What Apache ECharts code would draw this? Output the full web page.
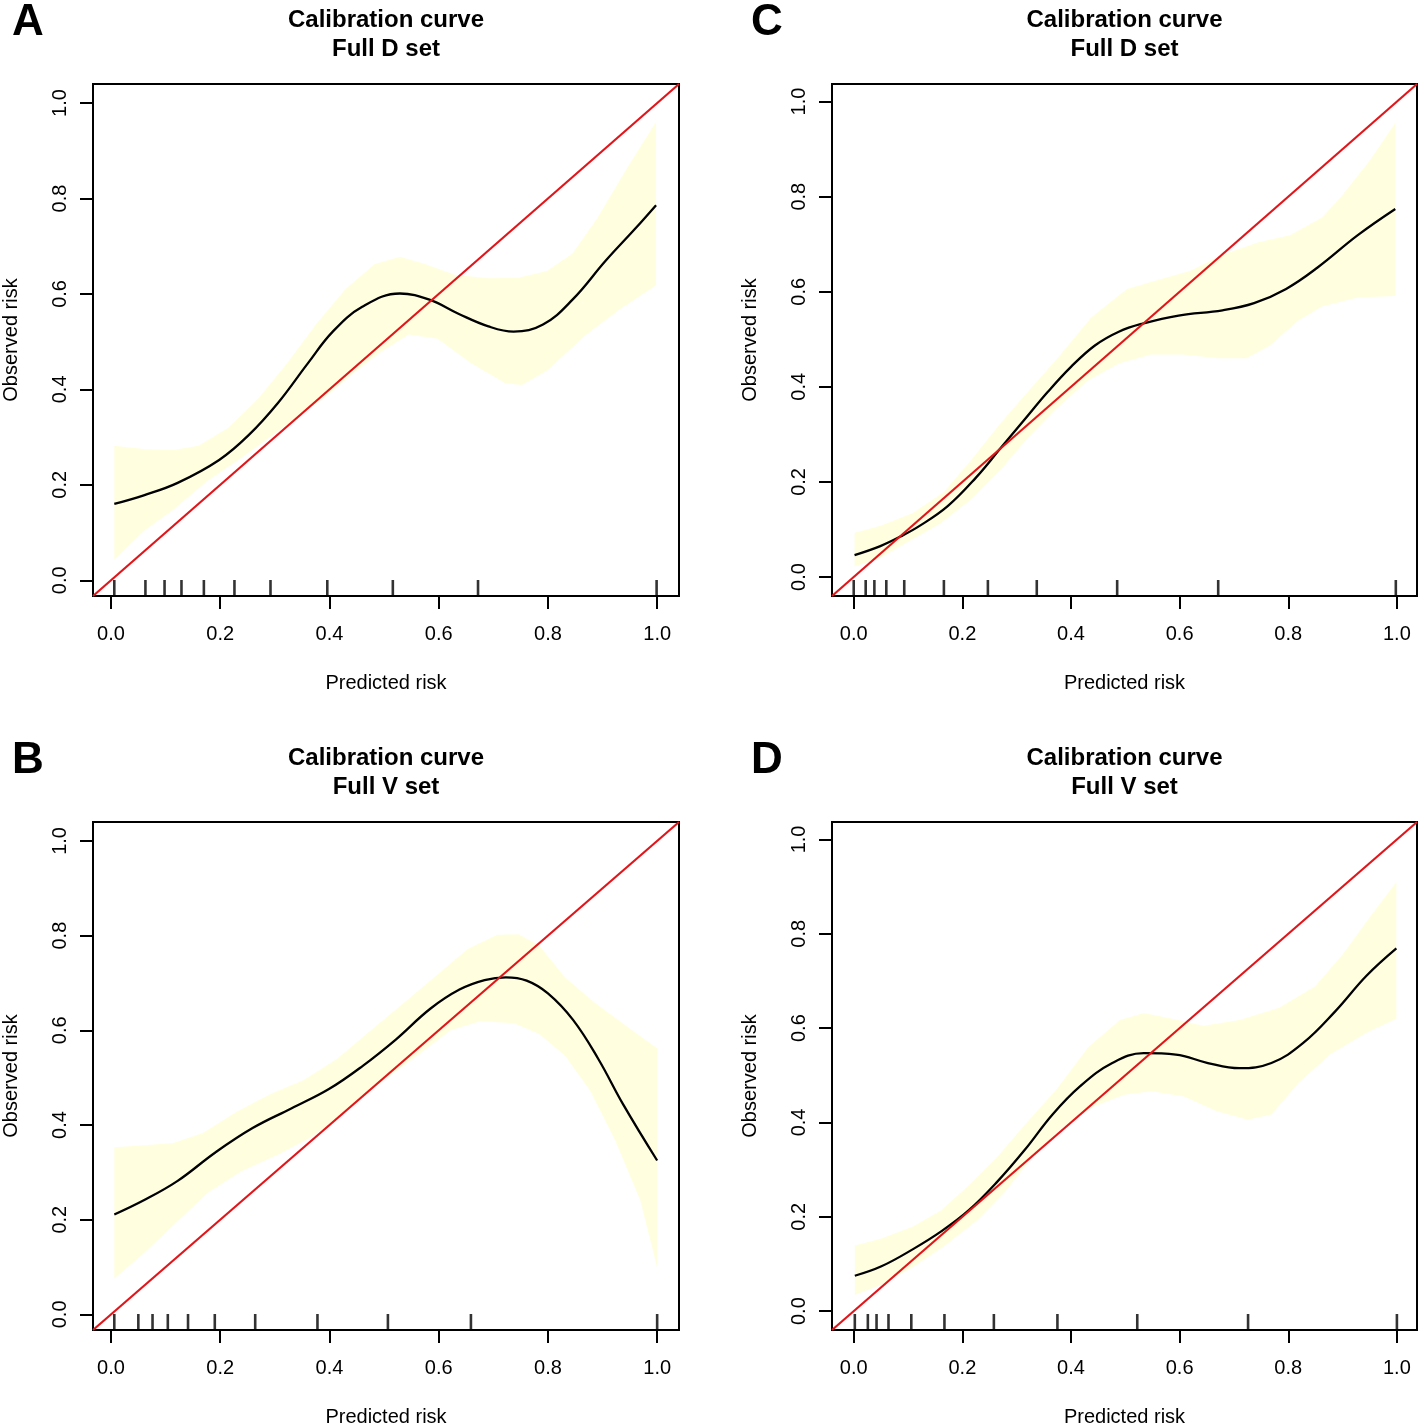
<!DOCTYPE html>
<html><head><meta charset="utf-8">
<script src="https://cdn.jsdelivr.net/npm/echarts@6/dist/echarts.min.js"></script>
<style>html,body{margin:0;padding:0;background:#fff}#c{width:1425px;height:1428px}</style>
</head><body><div id="c"></div>
<script>
// ---- text / tick data ----
const tickValues = [0, 0.2, 0.4, 0.6, 0.8, 1.0];
const titleMain = 'Calibration curve';
const panelLetters = ['A', 'C', 'B', 'D'];
const panelSubtitles = ['Full D set', 'Full D set', 'Full V set', 'Full V set'];
const xAxisName = 'Predicted risk';
const yAxisName = 'Observed risk';

// ---- Panel A ----
const limA = [-0.033, 1.04];
const curveA = [[0.006,0.160],[0.06,0.178],[0.122,0.204],[0.198,0.252],[0.252,0.304],[0.306,0.372],[0.36,0.454],[0.406,0.521],[0.46,0.573],[0.529,0.601],[0.583,0.588],[0.637,0.558],[0.691,0.532],[0.737,0.521],[0.791,0.536],[0.845,0.588],[0.906,0.670],[0.96,0.737],[0.998,0.786]];
const upperA = [[0.006,0.282],[0.06,0.275],[0.114,0.273],[0.16,0.282],[0.214,0.319],[0.268,0.379],[0.322,0.454],[0.375,0.536],[0.429,0.610],[0.483,0.663],[0.529,0.678],[0.575,0.663],[0.629,0.640],[0.691,0.633],[0.745,0.634],[0.798,0.648],[0.845,0.685],[0.891,0.760],[0.945,0.864],[0.998,0.961]];
const lowerA = [[0.006,0.043],[0.06,0.103],[0.114,0.148],[0.175,0.207],[0.237,0.255],[0.291,0.300],[0.345,0.345],[0.398,0.390],[0.445,0.435],[0.49,0.475],[0.545,0.515],[0.598,0.506],[0.66,0.454],[0.722,0.413],[0.752,0.409],[0.798,0.439],[0.868,0.513],[0.929,0.566],[0.998,0.618]];
const rugA = [0.006,0.063,0.098,0.129,0.170,0.226,0.292,0.396,0.516,0.672,0.999];

// ---- Panel C ----
const limC = [-0.04, 1.037];
const curveC = [[0.0015,0.046],[0.049,0.065],[0.086,0.085],[0.122,0.108],[0.173,0.149],[0.225,0.209],[0.269,0.269],[0.313,0.329],[0.357,0.389],[0.40,0.442],[0.444,0.487],[0.488,0.516],[0.532,0.533],[0.598,0.550],[0.679,0.561],[0.737,0.576],[0.796,0.606],[0.854,0.651],[0.928,0.719],[0.997,0.774]];
const upperC = [[0.0015,0.093],[0.049,0.108],[0.108,0.134],[0.166,0.179],[0.217,0.247],[0.269,0.322],[0.320,0.389],[0.378,0.464],[0.437,0.546],[0.503,0.606],[0.561,0.625],[0.620,0.644],[0.679,0.678],[0.745,0.704],[0.803,0.719],[0.862,0.756],[0.898,0.801],[0.950,0.876],[0.997,0.955]];
const lowerC = [[0.0015,0.022],[0.049,0.040],[0.100,0.074],[0.159,0.112],[0.217,0.164],[0.269,0.224],[0.320,0.292],[0.371,0.352],[0.430,0.412],[0.488,0.449],[0.547,0.468],[0.605,0.468],[0.671,0.460],[0.723,0.460],[0.766,0.487],[0.818,0.539],[0.862,0.569],[0.928,0.588],[0.997,0.591]];
const rugC = [0.0,0.022,0.038,0.060,0.093,0.166,0.247,0.337,0.485,0.671,0.998];

// ---- Panel B ----
const limB = [-0.033, 1.04];
const curveB = [[0.006,0.211],[0.060,0.241],[0.122,0.282],[0.191,0.342],[0.260,0.394],[0.330,0.435],[0.399,0.476],[0.461,0.525],[0.522,0.581],[0.584,0.645],[0.638,0.686],[0.684,0.706],[0.723,0.712],[0.761,0.705],[0.800,0.678],[0.846,0.622],[0.892,0.540],[0.938,0.443],[1.0,0.325]];
const upperB = [[0.006,0.353],[0.060,0.357],[0.114,0.362],[0.168,0.383],[0.230,0.428],[0.291,0.465],[0.353,0.495],[0.414,0.540],[0.476,0.600],[0.538,0.660],[0.599,0.719],[0.653,0.772],[0.707,0.802],[0.746,0.803],[0.784,0.779],[0.831,0.712],[0.884,0.660],[0.946,0.607],[1.0,0.562]];
const lowerB = [[0.006,0.076],[0.060,0.129],[0.114,0.188],[0.176,0.256],[0.237,0.301],[0.307,0.338],[0.368,0.375],[0.430,0.428],[0.492,0.488],[0.561,0.547],[0.622,0.600],[0.676,0.619],[0.738,0.615],[0.784,0.592],[0.831,0.547],[0.877,0.473],[0.923,0.368],[0.969,0.241],[1.0,0.099]];
const rugB = [0.006,0.050,0.076,0.104,0.141,0.190,0.264,0.378,0.507,0.659,1.0];

// ---- Panel D ----
const limD = [-0.04, 1.037];
const curveD = [[0.002,0.075],[0.051,0.095],[0.110,0.132],[0.161,0.169],[0.212,0.214],[0.264,0.274],[0.315,0.342],[0.366,0.417],[0.417,0.477],[0.476,0.526],[0.534,0.547],[0.593,0.544],[0.652,0.526],[0.710,0.515],[0.769,0.526],[0.827,0.568],[0.886,0.635],[0.944,0.711],[0.999,0.769]];
const upperD = [[0.002,0.139],[0.051,0.154],[0.110,0.180],[0.161,0.214],[0.212,0.267],[0.264,0.327],[0.315,0.395],[0.373,0.470],[0.432,0.560],[0.490,0.617],[0.534,0.632],[0.586,0.620],[0.644,0.605],[0.710,0.617],[0.783,0.643],[0.849,0.688],[0.900,0.756],[0.952,0.838],[0.999,0.910]];
const lowerD = [[0.002,0.034],[0.051,0.056],[0.110,0.094],[0.168,0.139],[0.227,0.192],[0.278,0.252],[0.329,0.327],[0.381,0.387],[0.439,0.432],[0.498,0.459],[0.549,0.466],[0.608,0.455],[0.666,0.425],[0.725,0.406],[0.769,0.417],[0.820,0.485],[0.878,0.545],[0.944,0.590],[0.999,0.620]];
const rugD = [0.002,0.026,0.042,0.064,0.106,0.167,0.258,0.375,0.522,0.726,1.0];

// ---- build ----
const FONT = "'Liberation Sans', Arial, Helvetica, sans-serif";
const panels = [
  {lim: limA, curve: curveA, upper: upperA, lower: lowerA, rug: rugA},
  {lim: limC, curve: curveC, upper: upperC, lower: lowerC, rug: rugC},
  {lim: limB, curve: curveB, upper: upperB, lower: lowerB, rug: rugB},
  {lim: limD, curve: curveD, upper: upperD, lower: lowerD, rug: rugD}
];
const gridBoxes = [
  {left: 93, top: 84, width: 586, height: 512},
  {left: 832, top: 84, width: 585, height: 512},
  {left: 93, top: 822, width: 586, height: 512},
  {left: 832, top: 822, width: 585, height: 512}
];

const grids = [], xAxes = [], yAxes = [], series = [], graphics = [];
panels.forEach((p, i) => {
  const g = gridBoxes[i];
  grids.push(Object.assign({show: true, borderColor: '#000', borderWidth: 2, backgroundColor: 'transparent'}, g));
  const axisCommon = {
    gridIndex: i, type: 'value', min: p.lim[0], max: p.lim[1],
    axisLine: {show: false, onZero: false},
    splitLine: {show: false},
    axisTick: {show: true, length: 13, customValues: tickValues, lineStyle: {color: '#000', width: 2}},
    nameLocation: 'middle',
    nameTextStyle: {color: '#000', fontSize: 20, fontFamily: FONT}
  };
  xAxes.push(Object.assign({}, axisCommon, {
    position: 'bottom', name: xAxisName, nameGap: 77,
    axisLabel: {customValues: tickValues, formatter: v => v.toFixed(1), color: '#000', fontSize: 20, fontFamily: FONT, margin: 28}
  }));
  yAxes.push(Object.assign({}, axisCommon, {
    position: 'left', name: yAxisName, nameGap: 72,
    axisLabel: {customValues: tickValues, formatter: v => v.toFixed(1), color: '#000', fontSize: 20, fontFamily: FONT, margin: 23, rotate: 90}
  }));
  const upper = p.upper, lower = p.lower;
  series.push({
    type: 'custom', xAxisIndex: i, yAxisIndex: i, silent: true, z: 1,
    data: [upper[0]],
    renderItem: function (params, api) {
      const pts = upper.map(q => api.coord(q)).concat(lower.slice().reverse().map(q => api.coord(q)));
      return {type: 'polygon', shape: {points: pts}, style: {fill: '#FFFFE0', stroke: null}};
    }
  });
  series.push({
    type: 'line', xAxisIndex: i, yAxisIndex: i, data: p.curve, smooth: 0.4,
    symbol: 'none', lineStyle: {color: '#000', width: 2.3}, z: 3
  });
  series.push({
    type: 'line', xAxisIndex: i, yAxisIndex: i,
    data: [[p.lim[0], p.lim[0]], [p.lim[1], p.lim[1]]],
    symbol: 'none', lineStyle: {color: '#e0161b', width: 2.2}, z: 4
  });
  series.push({
    type: 'scatter', xAxisIndex: i, yAxisIndex: i, clip: false,
    data: p.rug.map(x => [x, p.lim[0]]),
    symbol: 'rect', symbolSize: [2.6, 16], symbolOffset: [0, -8],
    itemStyle: {color: '#000'}, z: 5
  });
  const cx = g.left + g.width / 2;
  const ty = g.top - 50;
  graphics.push({
    type: 'text', x: cx, y: ty + 1,
    style: {text: titleMain + '\n' + panelSubtitles[i], font: 'bold 24px ' + FONT, fill: '#000', align: 'center', verticalAlign: 'middle', lineHeight: 29}
  });
  graphics.push({
    type: 'text', x: g.left - 65, y: g.top - 61,
    style: {text: panelLetters[i], font: 'bold 44px ' + FONT, fill: '#000', align: 'center', verticalAlign: 'middle'}
  });
});

const chart = echarts.init(document.getElementById('c'), null, {renderer: 'canvas'});
chart.setOption({
  animation: false,
  backgroundColor: '#fff',
  grid: grids, xAxis: xAxes, yAxis: yAxes, series: series,
  graphic: graphics
});
</script></body></html>
